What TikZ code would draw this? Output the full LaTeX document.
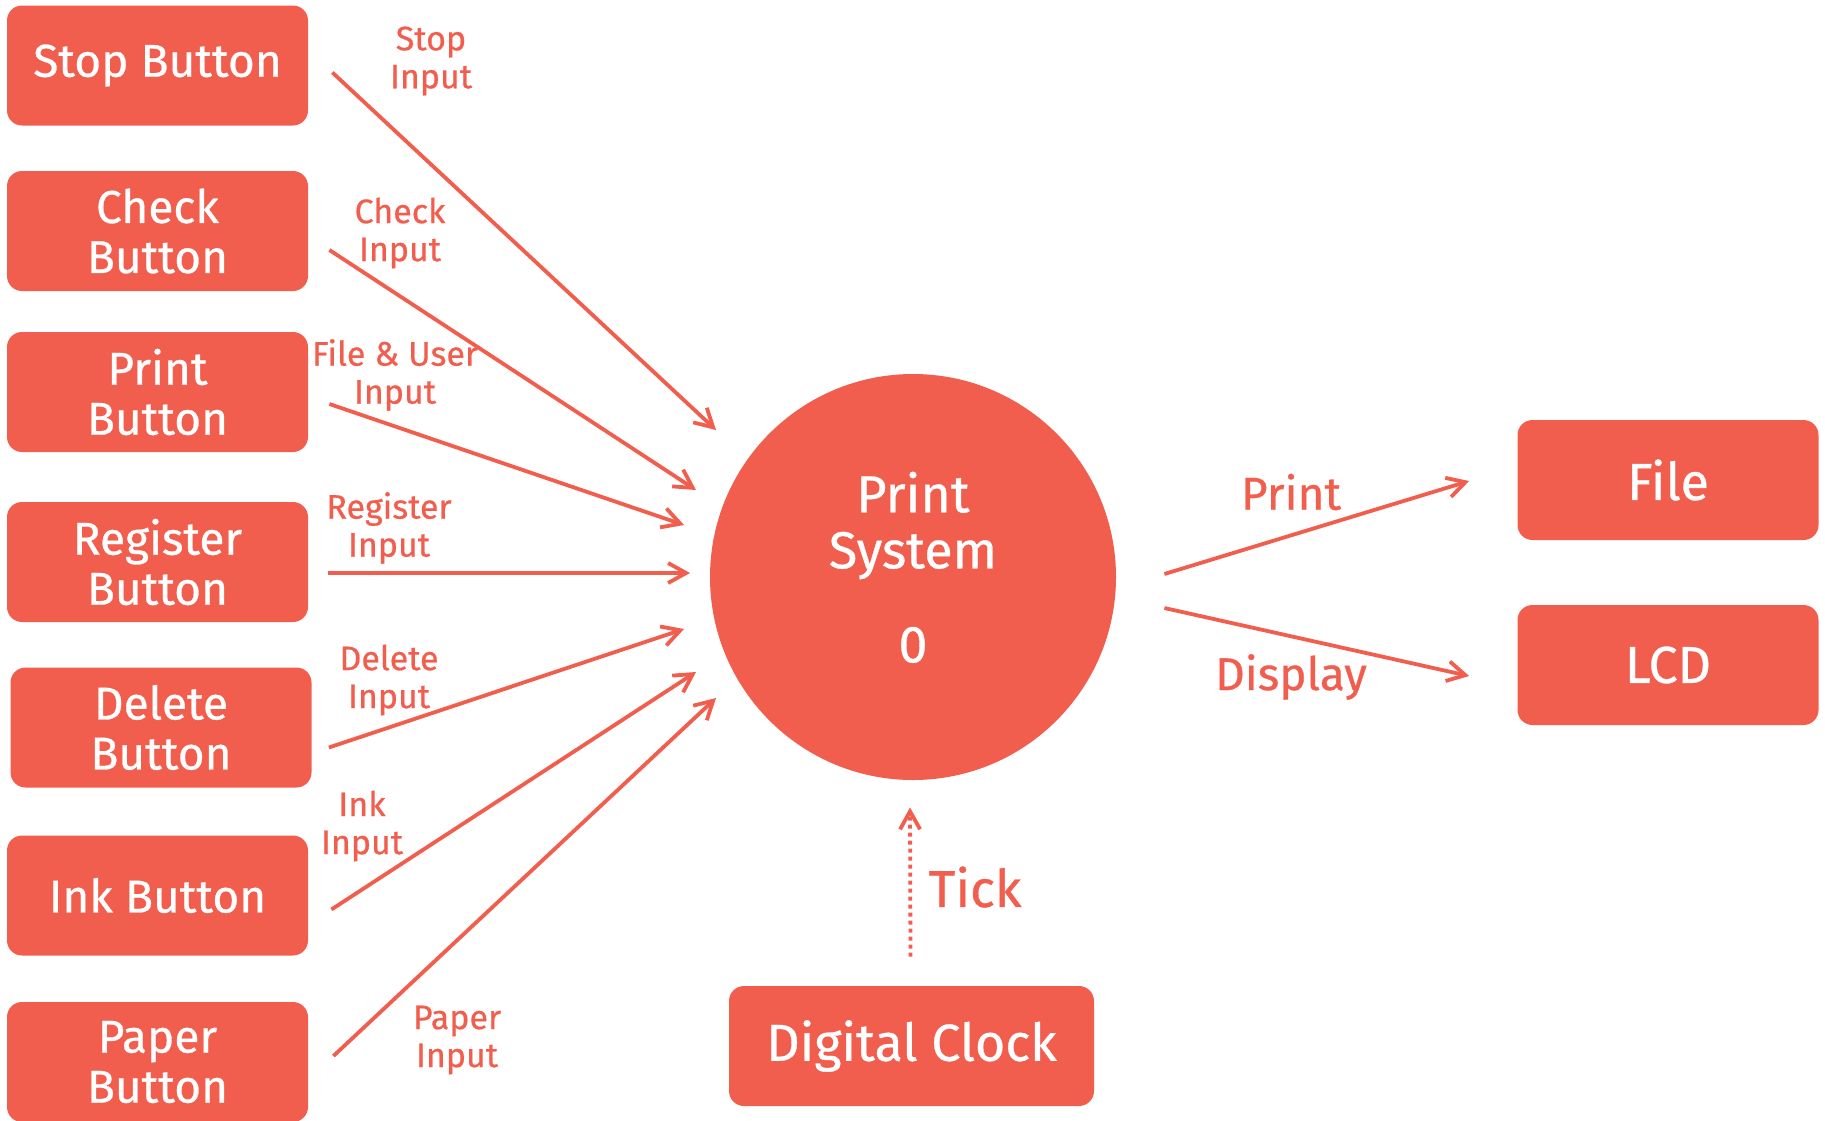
\documentclass[tikz,border=0pt]{standalone}
\usepackage{fontspec}
\setmainfont{Fira Sans}[FakeBold=0.6]
\usepackage{tikz}
\usetikzlibrary{shapes.geometric, arrows.meta}
\definecolor{dfdred}{RGB}{242,94,78}
\tikzstyle{button} = [rectangle, rounded corners=7.5pt, 
minimum width=150.5pt, 
minimum height=60pt,
align=center, 
fill=dfdred, 
text=white,
font=\fontsize{23}{25}\selectfont]
\tikzstyle{sink} = [button, 
font=\fontsize{26}{28}\selectfont]
\tikzstyle{process} = [circle, 
minimum size=203pt, 
align=center, 
fill=dfdred, 
text=white,
font=\fontsize{26}{28}\selectfont]
\tikzstyle{flow} = [text=dfdred, align=center, 
font=\fontsize{17}{19}\selectfont]
\tikzstyle{bigflow} = [text=dfdred, 
font=\fontsize{23}{25}\selectfont]
\tikzstyle{arrow} = [dfdred, line width=1.9pt, -{Straight Barb[length=9pt,width=10pt]}]

\begin{document}
\begin{tikzpicture}[x=0.5pt, y=-0.5pt]
        \useasboundingbox (0,0) rectangle (1825,1120);
        
        \node (stop) [button] at (157.5,65.5) {Stop Button};
        \node (check) [button] at (157.5,231) {Check\\Button};
        \node (printb) [button] at (157.5,392) {Print\\Button};
        \node (register) [button] at (157.5,562) {Register\\Button};
        \node (delete) [button] at (161,727.5) {Delete\\Button};
        \node (ink) [button] at (157.5,895.5) {Ink Button};
        \node (paper) [button] at (157.5,1062) {Paper\\Button};
        
        \node (sys) [process] at (913,577) {Print\\System\\[19pt]0\rule[-10pt]{0pt}{0pt}};
        
        \node (file) [sink] at (1668,480) {File};
        \node (lcd) [sink] at (1668,665) {LCD};
        \node (clock) [sink, minimum width=182.5pt] at (911.5,1046) {Digital Clock};
        
        \coordinate (in-stop) at (716,430);
        \coordinate (in-check) at (696,490);
        \coordinate (in-print) at (684,525);
        \coordinate (in-register) at (690,573);
        \coordinate (in-delete) at (684,629);
        \coordinate (in-ink) at (696,672);
        \coordinate (in-paper) at (716,698);
        
        \draw [arrow] ([shift={(24,7)}]stop.east) -- (in-stop);
        \draw [arrow] ([shift={(21,19)}]check.east) -- (in-check);
        \draw [arrow] ([shift={(21,12)}]printb.east) -- (in-print);
        \draw [arrow] ([shift={(20,11)}]register.east) -- (in-register);
        \draw [arrow] ([shift={(17,20)}]delete.east) -- (in-delete);
        \draw [arrow] ([shift={(23,14)}]ink.east) -- (in-ink);
        \draw [arrow] ([shift={(25,-6)}]paper.east) -- (in-paper);
        
        \draw [arrow] ([shift={(48,-3)}]sys.east) -- ([shift={(-48,1)}]file.west);
        \draw [arrow] ([shift={(48,31)}]sys.east) -- ([shift={(-48,11)}]lcd.west);
        \draw [arrow, dash pattern=on 2pt off 2pt] ([shift={(-1,-29)}]clock.north) -- ([shift={(-3,27)}]sys.south);
        
        \node (l-stop) [flow] at (431,61) {Stop\\Input};
        \node (l-check) [flow] at (400,233) {Check\\Input};
        \node (l-print) [flow] at (395,375) {File \& User\\Input};
        \node (l-register) [flow] at (389,528) {Register\\Input};
        \node (l-delete) [flow] at (389,680) {Delete\\Input};
        \node (l-ink) [flow] at (362,826) {Ink\\Input};
        \node (l-paper) [flow] at (457,1040) {Paper\\Input};
        \node (l-out) [bigflow] at (1291,492) {Print};
        \node (l-display) [bigflow] at (1291,677) {Display};
        \node (l-tick) [bigflow, font=\fontsize{26}{28}\selectfont] at (975,887) {Tick};
        
\end{tikzpicture}
\end{document}
